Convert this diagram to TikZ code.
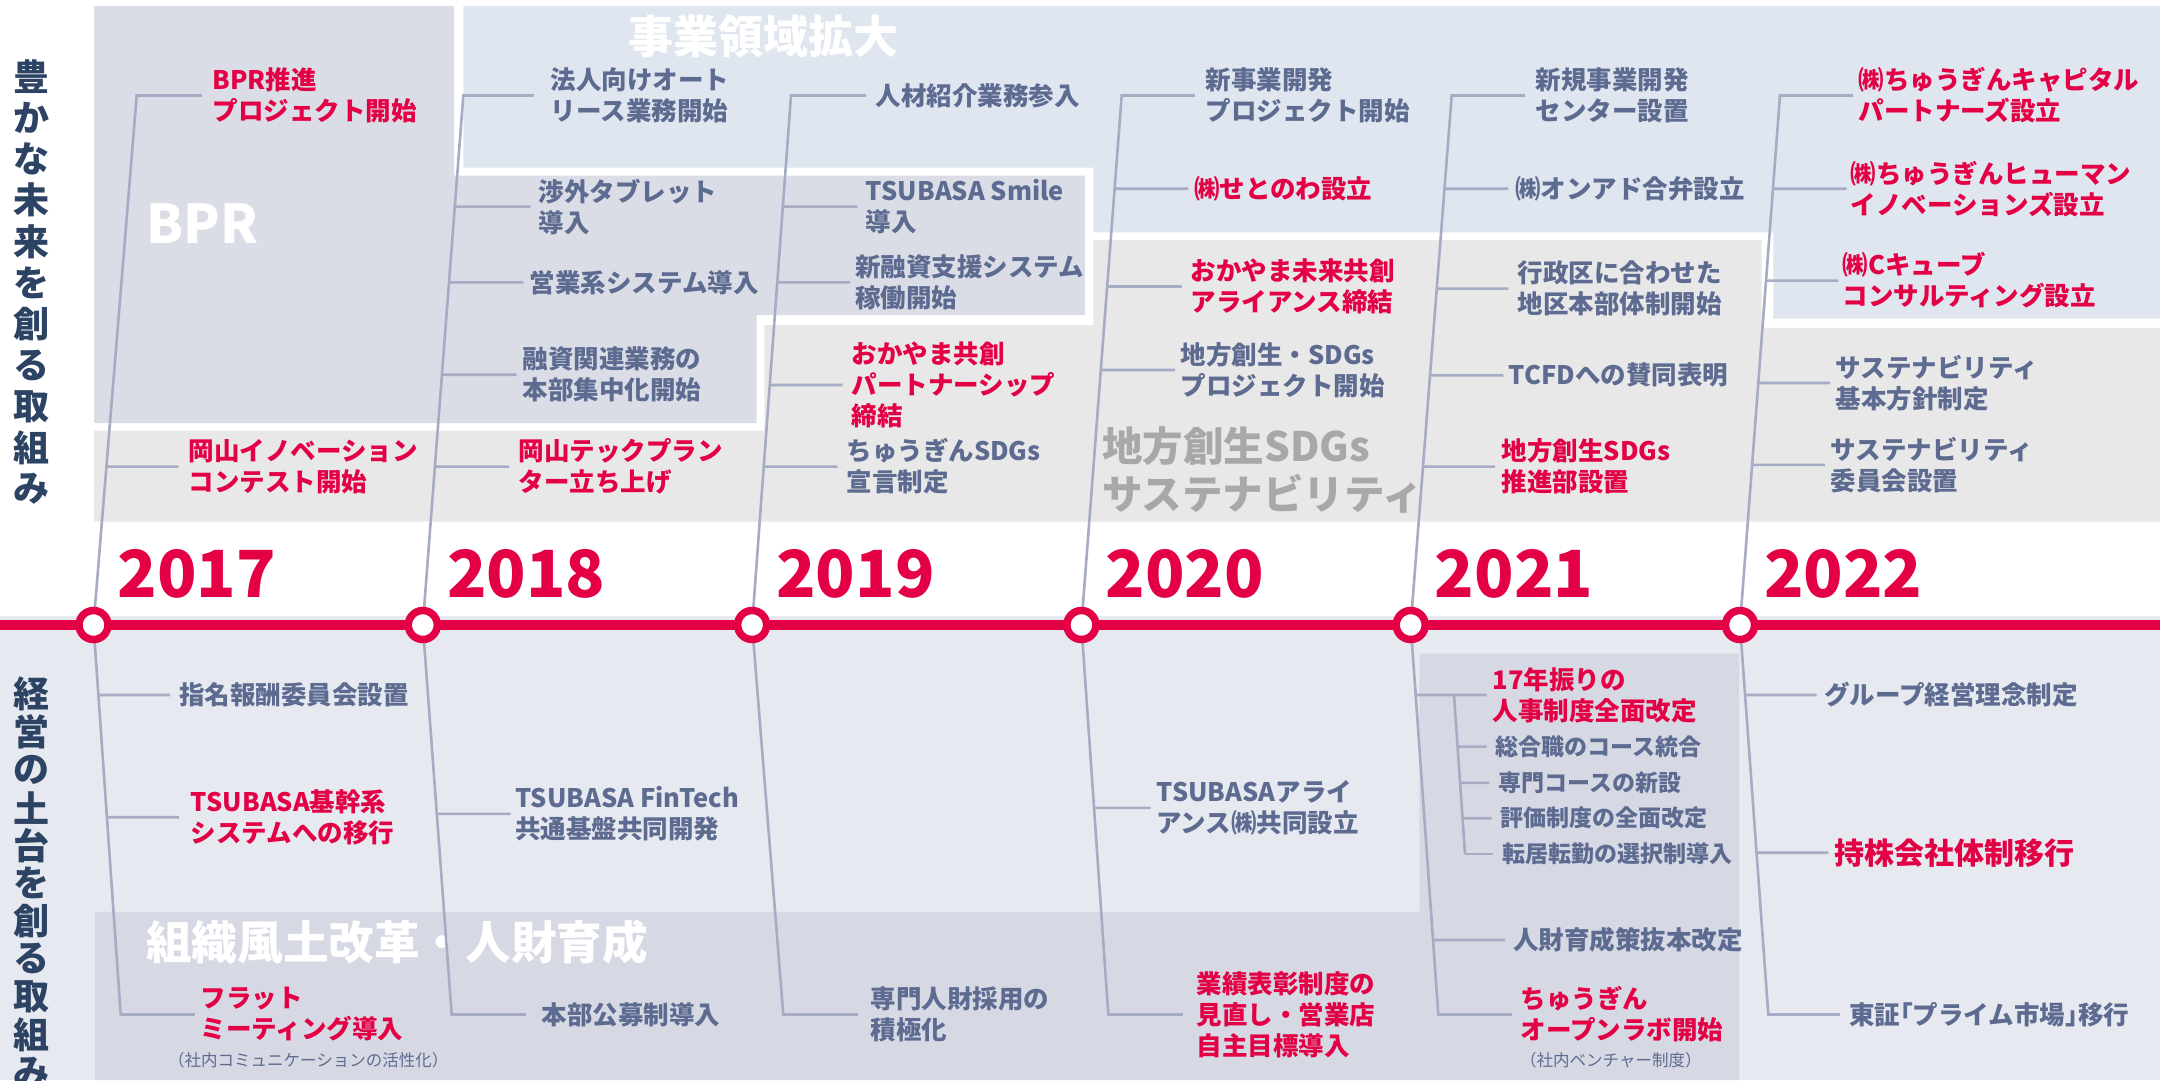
\documentclass[tikz,border=0pt]{standalone}
\usepackage{fontspec}
\setmainfont{Noto Sans CJK JP}
\usetikzlibrary{calc}
\definecolor{cred}{RGB}{228,0,68}
\definecolor{cgray}{HTML}{5D6B91}
\definecolor{cnavy}{HTML}{2D4364}
\definecolor{cline}{HTML}{A5ACC3}
\definecolor{bgbpr}{HTML}{DADDE6}
\definecolor{bgblue}{HTML}{DFE6EF}
\definecolor{bglight}{HTML}{E8E8E8}
\definecolor{bglow}{HTML}{E7E9F0}
\definecolor{bglowdark}{HTML}{D6D9E4}
\definecolor{cbig}{HTML}{A8A8A8}
\tikzset{
  conn/.style={draw=cline, line width=2.6pt},
  txt/.style={inner sep=0pt, anchor=west, align=left, font=\bfseries\fontsize{25.5}{31}\selectfont},
  gr/.style={txt, text=cgray},
  rd/.style={txt, text=cred},
  rdbig/.style={inner sep=0pt, anchor=west, text=cred, font=\bfseries\fontsize{30}{34}\selectfont},
  subit/.style={inner sep=0pt, anchor=west, text=cgray, font=\bfseries\fontsize{23}{28}\selectfont},
  note/.style={inner sep=0pt, anchor=west, text=cgray, font=\fontsize{16.5}{20}\selectfont},
  yearlab/.style={inner sep=0pt, anchor=base west, text=cred, font=\bfseries\fontsize{65}{65}\selectfont},
  ring/.style={circle, draw=cred, fill=white, line width=7.5pt, minimum size=29pt, inner sep=0pt},
  vlab/.style={inner sep=0pt, text=cnavy, font=\bfseries\fontsize{36}{36}\selectfont},
}
% #1 name, #2 year id, #3 y, #4 connector end x, #5 text x, #6 style, #7 text
\newcommand\upevt[7]{%
  \node[#6] (#1) at (#5,#3) {#7};
  \pgfmathsetmacro\evtfrac{(625-#3)/529.6}%
  \draw[conn] ($(c#2)!\evtfrac!(t#2)$) -- ([xshift={(#4)-(#5)}]#1.west);
}
\newcommand\loevt[7]{%
  \node[#6] (#1) at (#5,#3) {#7};
  \pgfmathsetmacro\evtfrac{(#3-625)/389.5}%
  \draw[conn] ($(c#2)!\evtfrac!(b#2)$) -- ([xshift={(#4)-(#5)}]#1.west);
}
\newcommand\subevt[5]{%
  \node[subit] (#1) at (#4,#2) {#5};
  \pgfmathsetmacro\evtfrac{(#2-695)/159}%
  \draw[conn] ($(sa)!\evtfrac!(sb)$) -- ([xshift={(#3)-(#4)}]#1.west);
}
\begin{document}
\begin{tikzpicture}[x=1pt,y=-1pt]
\useasboundingbox (0,0) rectangle (2160,1080);
% backgrounds
\fill[bgbpr] (94,6) -- (454,6) -- (454,175.6) -- (1085,175.6) -- (1085,315) -- (756.7,315) -- (756.7,423) -- (94,423) -- cycle;
\fill[bgblue] (463.3,6) -- (2160,6) -- (2160,318.5) -- (1773.3,318.5) -- (1773.3,232.4) -- (1093.3,232.4) -- (1093.3,167.7) -- (463.3,167.7) -- cycle;
\fill[bglight] (94,430.5) -- (764.3,430.5) -- (764.3,325) -- (1093.3,325) -- (1093.3,240) -- (1761.7,240) -- (1761.7,327.8) -- (2160,327.8) -- (2160,521.7) -- (94,521.7) -- cycle;
\fill[bglow] (0,616) rectangle (2160,1080);
\fill[bglowdark] (95,911.9) -- (1419.3,911.9) -- (1419.3,653.6) -- (1739,653.6) -- (1739,1080) -- (95,1080) -- cycle;
% big area labels
\node[inner sep=0pt, anchor=base west, text=white, font=\bfseries\fontsize{53.5}{54}\selectfont] (bprlab) at (146,243) {BPR};
\node[inner sep=0pt, anchor=west, text=white, font=\bfseries\fontsize{45}{45}\selectfont] (jigyo) at (628,36) {事業領域拡大};
\node[inner sep=0pt, anchor=west, align=left, text=cbig, font=\bfseries\fontsize{40.5}{48}\selectfont] (sdgs) at (1102,470) {地方創生SDGs\\サステナビリティ};
\node[inner sep=0pt, anchor=west, text=white, font=\bfseries\fontsize{45.6}{46}\selectfont] (soshiki) at (146,942) {組織風土改革・人財育成};
% vertical labels
\foreach \ch [count=\i from 0] in {豊,か,な,未,来,を,創,る,取,組,み}
  \node[vlab] (vu\i) at (31.7,76.5+41.25*\i) {\ch};
\foreach \ch [count=\i from 0] in {経,営,の,土,台,を,創,る,取,組,み}
  \node[vlab] (vl\i) at (31.7,694.3+37.8*\i) {\ch};
% timeline
\coordinate (tlL) at (0,625);
\coordinate (tlR) at (2160,625);
\draw[cred, line width=10pt] (tlL) -- (tlR);
% spine coordinates
\coordinate (c17) at (93.5,625);   \coordinate (t17) at (136.7,95.4);  \coordinate (b17) at (120.7,1014.5);
\coordinate (c18) at (422.8,625);  \coordinate (t18) at (463.3,95.4);  \coordinate (b18) at (451.7,1014.5);
\coordinate (c19) at (752.1,625);  \coordinate (t19) at (791,95.4);    \coordinate (b19) at (783.3,1014.5);
\coordinate (c20) at (1081.4,625); \coordinate (t20) at (1121.7,95.4); \coordinate (b20) at (1108.3,1014.5);
\coordinate (c21) at (1410.7,625); \coordinate (t21) at (1451.7,95.4); \coordinate (b21) at (1438.3,1014.5);
\coordinate (c22) at (1740,625);   \coordinate (t22) at (1780,95.4);   \coordinate (b22) at (1768.3,1014.5);
\foreach \k in {17,18,19,20,21,22}
  \draw[conn, line cap=rect] (t\k) -- (c\k) -- (b\k);
% upper events
\upevt{u01}{17}{95.4}{201.7}{212.3}{rd}{BPR推進\\プロジェクト開始}
\upevt{u02}{17}{466.6}{178.3}{188.3}{rd}{岡山イノベーション\\コンテスト開始}
\upevt{u03}{18}{95.4}{534}{550.7}{gr}{法人向けオート\\リース業務開始}
\upevt{u04}{18}{206.6}{530.7}{538.3}{gr}{渉外タブレット\\導入}
\upevt{u05}{18}{282.4}{523.3}{529.7}{gr}{営業系システム導入}
\upevt{u06}{18}{374.7}{516.7}{522.3}{gr}{融資関連業務の\\本部集中化開始}
\upevt{u07}{18}{466.6}{509}{518.3}{rd}{岡山テックプラン\\ター立ち上げ}
\upevt{u08}{19}{95.4}{866}{875.7}{gr}{人材紹介業務参入}
\upevt{u09}{19}{206.6}{857.3}{865.7}{gr}{TSUBASA Smile\\導入}
\upevt{u10}{19}{282.4}{850}{855}{gr}{新融資支援システム\\稼働開始}
\upevt{u11}{19}{385}{842.7}{851.7}{rd}{おかやま共創\\パートナーシップ\\締結}
\upevt{u12}{19}{466.6}{837.3}{846.3}{gr}{ちゅうぎんSDGs\\宣言制定}
\upevt{u13}{20}{95.4}{1195}{1205.7}{gr}{新事業開発\\プロジェクト開始}
\upevt{u14}{20}{188.7}{1188.3}{1194}{rd}{㈱せとのわ設立}
\upevt{u15}{20}{286.5}{1181.7}{1190.7}{rd}{おかやま未来共創\\アライアンス締結}
\upevt{u16}{20}{370}{1175}{1180.7}{gr}{地方創生・SDGs\\プロジェクト開始}
\upevt{u17}{21}{95.4}{1525}{1535.7}{gr}{新規事業開発\\センター設置}
\upevt{u18}{21}{188.7}{1508.3}{1515}{gr}{㈱オンアド合弁設立}
\upevt{u19}{21}{288.6}{1508.3}{1517.3}{gr}{行政区に合わせた\\地区本部体制開始}
\upevt{u20}{21}{375.3}{1503.3}{1508.3}{gr}{TCFDへの賛同表明}
\upevt{u21}{21}{466.6}{1495}{1501.7}{rd}{地方創生SDGs\\推進部設置}
\upevt{u22}{22}{95.4}{1853.3}{1858.3}{rd}{㈱ちゅうぎんキャピタル\\パートナーズ設立}
\upevt{u23}{22}{188.7}{1846.7}{1850.7}{rd}{㈱ちゅうぎんヒューマン\\イノベーションズ設立}
\upevt{u24}{22}{280.6}{1838.3}{1842.3}{rd}{㈱Cキューブ\\コンサルティング設立}
\upevt{u25}{22}{383}{1830}{1835.7}{gr}{サステナビリティ\\基本方針制定}
\upevt{u26}{22}{464.9}{1825}{1830.7}{gr}{サステナビリティ\\委員会設置}
% lower events
\loevt{l01}{17}{695}{170}{179}{gr}{指名報酬委員会設置}
\loevt{l02}{17}{817.2}{179}{190.7}{rd}{TSUBASA基幹系\\システムへの移行}
\loevt{l03}{17}{1014.5}{195}{200.7}{rd}{フラット\\ミーティング導入}
\loevt{l04}{18}{813.8}{510.7}{515}{gr}{TSUBASA FinTech\\共通基盤共同開発}
\loevt{l05}{18}{1014.5}{525.7}{541.7}{gr}{本部公募制導入}
\loevt{l06}{19}{1014.5}{858.3}{870.7}{gr}{専門人財採用の\\積極化}
\loevt{l07}{20}{807.9}{1150.7}{1156.3}{gr}{TSUBASAアライ\\アンス㈱共同設立}
\loevt{l08}{20}{1014.5}{1182.7}{1196.3}{rd}{業績表彰制度の\\見直し・営業店\\自主目標導入}
\loevt{l09}{21}{695}{1486.7}{1492.3}{rd}{17年振りの\\人事制度全面改定}
\loevt{l10}{21}{940}{1505}{1513}{gr}{人財育成策抜本改定}
\loevt{l11}{21}{1014.5}{1511.7}{1520.7}{rd}{ちゅうぎん\\オープンラボ開始}
\loevt{l12}{22}{695}{1816.7}{1824}{gr}{グループ経営理念制定}
\loevt{l13}{22}{852.7}{1828.3}{1834}{rdbig}{持株会社体制移行}
\loevt{l14}{22}{1014.5}{1840}{1849}{gr}{東証｢プライム市場｣移行}
% 2021 sub bracket
\coordinate (sa) at (1454,695);
\coordinate (sb) at (1465,854);
\draw[conn] (sa) -- (sb);
\subevt{s01}{746.6}{1486.7}{1495}{総合職のコース統合}
\subevt{s02}{782.8}{1489.3}{1498.3}{専門コースの新設}
\subevt{s03}{818.2}{1491.7}{1500.7}{評価制度の全面改定}
\subevt{s04}{854}{1493.3}{1502.3}{転居転勤の選択制導入}
% notes
\node[note] (n01) at (168,1060) {（社内コミュニケーションの活性化）};
\node[note] (n02) at (1520,1060) {（社内ベンチャー制度）};
% rings and years
\foreach \k in {17,18,19,20,21,22}
  \node[ring] (r\k) at (c\k) {};
\foreach \k in {17,18,19,20,21,22}
  \node[yearlab] (y\k) at ($(c\k)+(24,-28)$) {20\k};
\end{tikzpicture}
\end{document}
